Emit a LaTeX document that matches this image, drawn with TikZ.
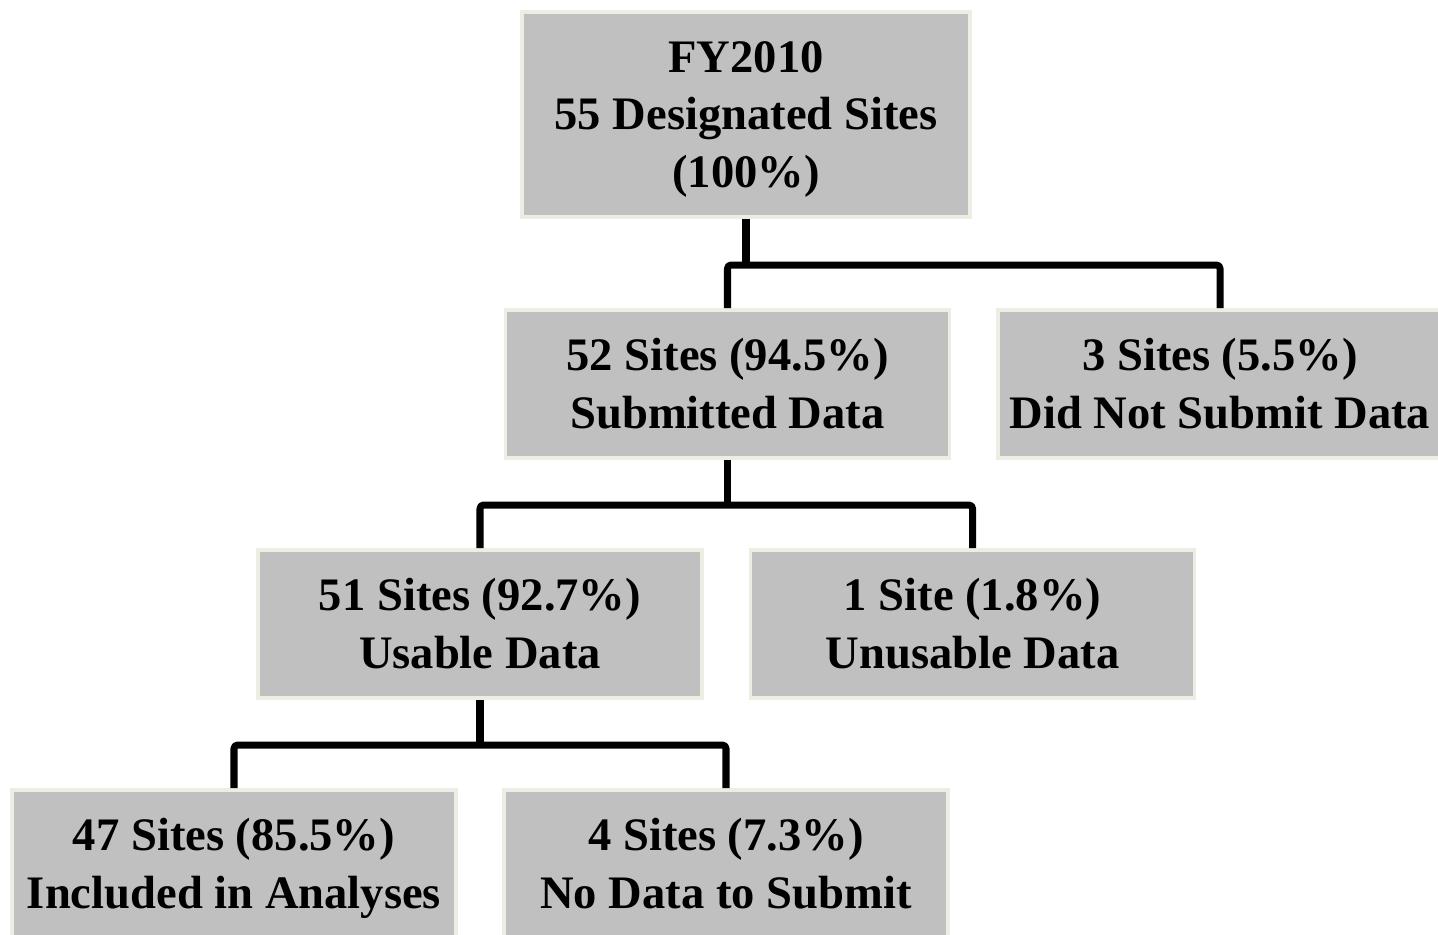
\documentclass[tikz,border=0pt]{standalone}
\usepackage{fontspec}
\setmainfont{Liberation Serif}
\definecolor{boxfill}{HTML}{C0C0C0}
\definecolor{boxedge}{HTML}{EEEDE3}
\newcommand\bxstrut{\rule[-3.8pt]{0pt}{16.4pt}}
\begin{document}
\begin{tikzpicture}[
  box/.style={draw=boxedge, line width=1.1pt, fill=boxfill, align=center,
    minimum width=4.44cm, minimum height=1.48cm, inner sep=0pt,
    font=\fontsize{13.25}{16.4}\selectfont\bfseries},
  conn/.style={line width=2pt, line join=round, line cap=butt, rounded corners=1pt}
]
\useasboundingbox (0,0) rectangle (14.38,-9.34);
\clip (0,0) rectangle (14.38,-9.34);
\node[box, minimum width=4.48cm, minimum height=2.05cm] (top) at (7.46,-1.145) {\bxstrut FY2010\\55 Designated Sites\\(100\%)\bxstrut};
\node[box] (s52) at (7.275,-3.84) {\bxstrut 52 Sites (94.5\%)\\Submitted Data\bxstrut};
\node[box] (s3) at (12.20,-3.84) {\bxstrut 3 Sites (5.5\%)\\Did Not Submit Data\bxstrut};
\node[box] (s51) at (4.80,-6.24) {\bxstrut 51 Sites (92.7\%)\\Usable Data\bxstrut};
\node[box] (s1) at (9.725,-6.24) {\bxstrut 1 Site (1.8\%)\\Unusable Data\bxstrut};
\node[box] (s47) at (2.34,-8.64) {\bxstrut 47 Sites (85.5\%)\\Included in Analyses\bxstrut};
\node[box] (s4) at (7.26,-8.64) {\bxstrut 4 Sites (7.3\%)\\No Data to Submit\bxstrut};
\coordinate (j1) at (7.46,-2.65);
\coordinate (j2) at (7.275,-5.05);
\coordinate (j3) at (4.80,-7.45);
\draw[conn] (top.south) -- (j1);
\draw[conn] (s52.north) |- (j1) -| (s3.north);
\draw[conn] (s52.south) -- (j2);
\draw[conn] (s51.north) |- (j2) -| (s1.north);
\draw[conn] (s51.south) -- (j3);
\draw[conn] (s47.north) |- (j3) -| (s4.north);
\end{tikzpicture}
\end{document}
